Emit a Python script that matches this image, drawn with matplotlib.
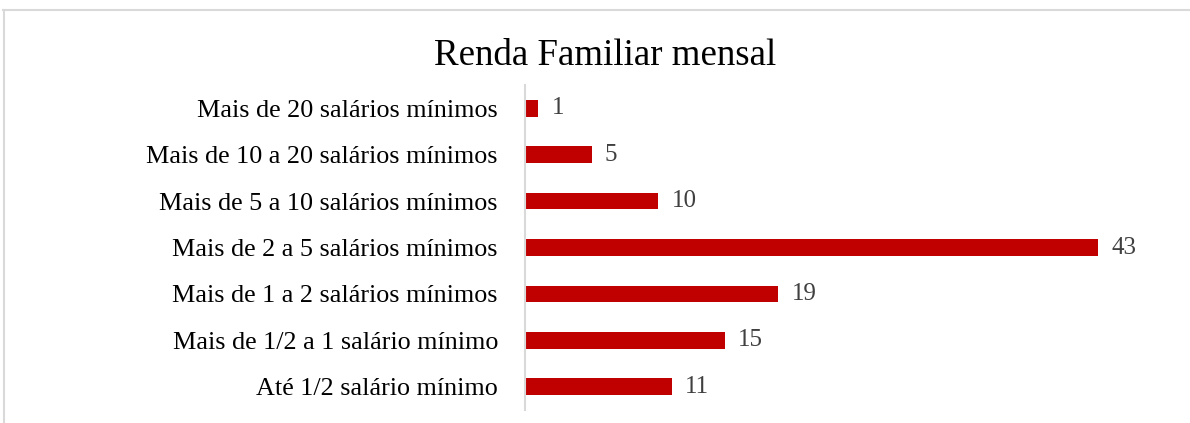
import matplotlib
matplotlib.use("Agg")
import matplotlib.pyplot as plt
from matplotlib.lines import Line2D

categories = [
    "Até 1/2 salário mínimo",
    "Mais de 1/2 a 1 salário mínimo",
    "Mais de 1 a 2 salários mínimos",
    "Mais de 2 a 5 salários mínimos",
    "Mais de 5 a 10 salários mínimos",
    "Mais de 10 a 20 salários mínimos",
    "Mais de 20 salários mínimos",
]
values = [11, 15, 19, 43, 10, 5, 1]

W, H = 1190, 423
plt.rcParams["font.family"] = ["Liberation Serif", "DejaVu Serif"]
fig = plt.figure(figsize=(W / 100, H / 100), dpi=100)
ax = fig.add_axes([525 / W, 13 / H, 640 / W, 325 / H])

ax.barh(range(len(values)), values, height=0.36, color="#C00000")
for i, v in enumerate(values):
    ax.text(v + 1.0, i, str(v), va="center", ha="left", fontsize=18, color="#404040")

ax.set_ylim(-0.5, len(values) - 0.5)
ax.set_xlim(0, 48)
ax.set_yticks(range(len(values)))
ax.set_yticklabels(categories, fontsize=18.8, color="#000000")
ax.tick_params(axis="y", length=0, pad=19.5)
ax.set_xticks([])
for s in ["top", "right", "bottom"]:
    ax.spines[s].set_visible(False)
ax.spines["left"].set_color("#D9D9D9")
ax.spines["left"].set_linewidth(1.5)

fig.text(605 / W, 1 - 56 / H, "Renda Familiar mensal", ha="center", va="center", fontsize=26.6)

# chart-area frame (cut off at right/bottom)
fig.add_artist(Line2D([3 / W, 1], [1 - 10 / H, 1 - 10 / H], color="#D9D9D9", lw=1.5))
fig.add_artist(Line2D([4 / W, 4 / W], [0, 1 - 10 / H], color="#D9D9D9", lw=1.5))

fig.savefig("out.png", dpi=100)
